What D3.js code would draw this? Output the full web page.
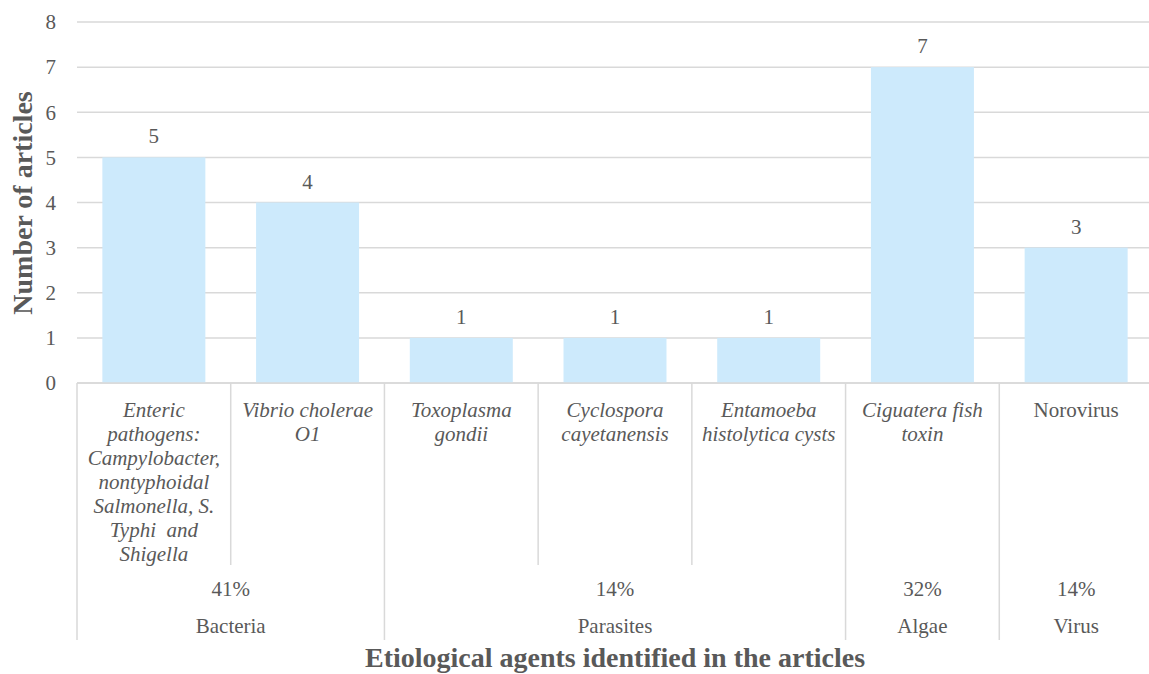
<!DOCTYPE html>
<html>
<head>
<meta charset="utf-8">
<script src="https://cdn.jsdelivr.net/npm/d3@7"></script>
<style>
  html, body { margin: 0; padding: 0; background: #fff; }
  svg { display: block; }
  svg text { font-family: "Times New Roman", "Liberation Serif", "DejaVu Serif", serif; fill: #595959; }
</style>
</head>
<body>
<svg id="chart" width="1149" height="674"></svg>
<script>
// Articles per etiological agent
const agents = [
  ["Enteric", "pathogens:", "Campylobacter,", "nontyphoidal", "Salmonella, S.", "Typhi\u00a0 and", "Shigella"],
  ["Vibrio cholerae", "O1"],
  ["Toxoplasma", "gondii"],
  ["Cyclospora", "cayetanensis"],
  ["Entamoeba", "histolytica cysts"],
  ["Ciguatera fish", "toxin"],
  ["Norovirus"]
];
const agentItalic = [true, true, true, true, true, true, false];
const articleCounts = [5, 4, 1, 1, 1, 7, 3];

// Agent groups: name, share, and how many agents each covers
const groupNames = ["Bacteria", "Parasites", "Algae", "Virus"];
const groupShares = ["41%", "14%", "32%", "14%"];
const groupSizes = [2, 3, 1, 1];

const yTicks = [0, 1, 2, 3, 4, 5, 6, 7, 8];

const serif = '"Times New Roman", "Liberation Serif", "DejaVu Serif", serif';
const svg = d3.select("#chart").attr("font-family", serif);
const plotLeft = 77, plotRight = 1153, plotTop = 22, plotBottom = 383;

const x = d3.scaleBand()
  .domain(d3.range(agents.length))
  .range([plotLeft, plotRight])
  .paddingInner(0.33)
  .paddingOuter(0.165);

const step = x.step();
const colStart = i => plotLeft + i * step;

const y = d3.scaleLinear().domain([0, 8]).range([plotBottom, plotTop]);

// Horizontal gridlines
svg.append("g")
  .selectAll("line")
  .data(yTicks)
  .join("line")
  .attr("x1", plotLeft).attr("x2", plotRight)
  .attr("y1", d => y(d)).attr("y2", d => y(d))
  .attr("stroke", "#d9d9d9")
  .attr("stroke-width", 1.5);

// Y tick labels
svg.append("g")
  .selectAll("text")
  .data(yTicks)
  .join("text")
  .attr("x", 56)
  .attr("y", d => y(d))
  .attr("dy", "0.35em")
  .attr("text-anchor", "end")
  .attr("font-size", 21)
  .text(d => d);

// Bars
svg.append("g")
  .selectAll("rect")
  .data(articleCounts)
  .join("rect")
  .attr("x", (d, i) => x(i))
  .attr("width", x.bandwidth())
  .attr("y", d => y(d))
  .attr("height", d => y(0) - y(d))
  .attr("fill", "#cdeafc");

// Value labels
svg.append("g")
  .selectAll("text")
  .data(articleCounts)
  .join("text")
  .attr("x", (d, i) => x(i) + x.bandwidth() / 2)
  .attr("y", d => y(d) - 14)
  .attr("text-anchor", "middle")
  .attr("font-size", 21)
  .text(d => d);

// Axis baseline
svg.append("line")
  .attr("x1", plotLeft).attr("x2", plotRight)
  .attr("y1", y(0)).attr("y2", y(0))
  .attr("stroke", "#d9d9d9").attr("stroke-width", 1.5);

// Group boundaries and inner separators
const groupEdges = [0];
groupSizes.forEach(s => groupEdges.push(groupEdges[groupEdges.length - 1] + s));
const innerEdges = d3.range(1, agents.length).filter(i => !groupEdges.includes(i));

svg.append("g")
  .selectAll("line")
  .data(groupEdges)
  .join("line")
  .attr("x1", d => colStart(d)).attr("x2", d => colStart(d))
  .attr("y1", y(0)).attr("y2", 640)
  .attr("stroke", "#d9d9d9").attr("stroke-width", 1.5);

svg.append("g")
  .selectAll("line")
  .data(innerEdges)
  .join("line")
  .attr("x1", d => colStart(d)).attr("x2", d => colStart(d))
  .attr("y1", y(0)).attr("y2", 565)
  .attr("stroke", "#d9d9d9").attr("stroke-width", 1.5);

// Category labels
const cat = svg.append("g")
  .selectAll("text")
  .data(agents)
  .join("text")
  .attr("text-anchor", "middle")
  .attr("font-size", 21)
  .attr("font-style", (d, i) => agentItalic[i] ? "italic" : "normal")
  .attr("transform", (d, i) => `translate(${colStart(i) + step / 2},${417})`);

cat.selectAll("tspan")
  .data(d => d)
  .join("tspan")
  .attr("x", 0)
  .attr("y", (d, j) => j * 24)
  .text(d => d);

// Group labels: share and name
const groupCenter = (g) => (colStart(groupEdges[g]) + colStart(groupEdges[g + 1])) / 2;

svg.append("g")
  .selectAll("text")
  .data(groupShares)
  .join("text")
  .attr("x", (d, i) => groupCenter(i))
  .attr("y", 596)
  .attr("text-anchor", "middle")
  .attr("font-size", 21)
  .text(d => d);

svg.append("g")
  .selectAll("text")
  .data(groupNames)
  .join("text")
  .attr("x", (d, i) => groupCenter(i))
  .attr("y", 633)
  .attr("text-anchor", "middle")
  .attr("font-size", 21)
  .text(d => d);

// Axis titles
svg.append("text")
  .attr("x", 615)
  .attr("y", 667)
  .attr("text-anchor", "middle")
  .attr("font-size", 28)
  .attr("font-weight", "bold")
  .text("Etiological agents identified in the articles");

svg.append("text")
  .attr("transform", "translate(32,203) rotate(-90)")
  .attr("text-anchor", "middle")
  .attr("font-size", 28)
  .attr("font-weight", "bold")
  .text("Number of articles");
</script>
</body>
</html>
